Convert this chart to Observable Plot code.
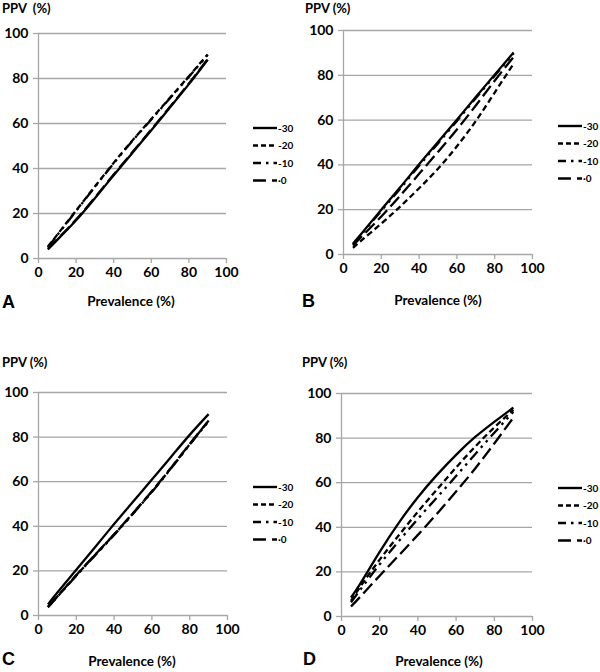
<!DOCTYPE html>
<html>
<head>
<meta charset="utf-8">
<script src="https://cdn.jsdelivr.net/npm/d3@7"></script>
<script src="https://cdn.jsdelivr.net/npm/@observablehq/plot@0.6"></script>
<style>
  html, body { margin: 0; padding: 0; background: #fff; }
  #root { position: relative; width: 600px; height: 672px; overflow: hidden; font-family: Lato, "Open Sans", sans-serif; font-weight: bold; color: #000; }
  .panel { position: absolute; }
  .txt { position: absolute; white-space: pre; line-height: 1; font-weight: bold; }
  .panel svg g[aria-label$="tick label"] { fill: #000; }
  .legend { position: absolute; }
</style>
</head>
<body>
<div id="root"></div>
<script>
// ---- data ----
const prevalence = [5, 10, 20, 30, 40, 50, 60, 70, 80, 90];
const seriesNames = ["-30", "-20", "-10", "0"];
const tickValues = [0, 20, 40, 60, 80, 100];
const gridValues = [20, 40, 60, 80, 100];

// Panel A
const a_m30 = [4.0, 8.3, 17.0, 26.8, 37.0, 47.0, 57.0, 67.2, 77.5, 88.4];
const a_m20 = [5.2, 10.6, 21.3, 32.0, 42.5, 52.5, 62.0, 71.5, 81.0, 90.7];
const a_m10 = [5.0, 10.4, 21.1, 31.8, 42.3, 52.3, 61.8, 71.3, 80.8, 90.5];
const a_0   = [4.3, 8.6, 17.3, 27.1, 37.3, 47.3, 57.3, 67.5, 77.8, 88.6];
// Panel B
const b_m30 = [4.8, 9.8, 20.0, 30.0, 40.3, 50.2, 60.2, 70.3, 80.3, 90.2];
const b_m20 = [3.0, 6.6, 13.8, 21.4, 29.6, 38.3, 48.3, 59.6, 72.3, 85.2];
const b_m10 = [4.6, 9.5, 19.5, 29.4, 39.6, 49.6, 59.6, 69.8, 79.8, 89.8];
const b_0   = [4.0, 8.3, 17.0, 26.3, 36.0, 45.8, 55.8, 66.5, 77.6, 88.2];
// Panel C
const c_m30 = [5.0, 10.3, 20.5, 30.7, 41.0, 51.0, 61.0, 71.0, 81.0, 90.3];
const c_m20 = [3.8, 8.5, 18.0, 27.2, 36.3, 45.8, 55.6, 66.0, 76.8, 87.3];
const c_m10 = [3.7, 8.4, 17.8, 27.0, 36.1, 45.6, 55.4, 65.8, 76.6, 87.1];
const c_0   = [3.9, 8.6, 18.1, 27.3, 36.4, 45.9, 55.7, 66.1, 76.9, 87.4];
// Panel D
const d_m30 = [8.5, 15.0, 29.0, 42.0, 53.5, 63.5, 72.5, 80.5, 87.3, 93.7];
const d_m20 = [7.0, 13.6, 25.5, 36.4, 47.0, 57.0, 66.8, 76.2, 84.8, 92.7];
const d_m10 = [6.3, 12.2, 23.4, 33.8, 43.8, 53.4, 63.0, 72.8, 82.4, 91.8];
const d_0   = [4.5, 9.0, 18.3, 27.4, 36.6, 46.1, 56.0, 66.4, 77.6, 89.2];

const panelLetters = ["A", "B", "C", "D"];
const yTitles = ["PPV  (%)", "PPV (%)", "PPV (%)", "PPV (%)"];
const xTitle = "Prevalence (%)";

// ---- styling ----
const dashes = {"-30": null, "-20": "6,3.5", "-10": "11,5,2.5,5,2.5,5", "0": "13,5"};
const widths = {"-30": 2.3, "-20": 2.3, "-10": 2.3, "0": 2.3};

const panels = [
  {series: [a_m30, a_m20, a_m10, a_0], left: 0,   top: 0,   h: 290, mt: 33, mb: 32, ml: 38, mr: 74,
   yt: [2, 2], lt: [2, 293], xt: [131, 295], lg: [250, 128]},
  {series: [b_m30, b_m20, b_m10, b_0], left: 300, top: 0,   h: 290, mt: 30, mb: 36, ml: 43, mr: 68,
   yt: [305, 2], lt: [302, 292], xt: [438, 294], lg: [555, 126]},
  {series: [c_m30, c_m20, c_m10, c_0], left: 0,   top: 336, h: 310, mt: 56, mb: 31, ml: 38, mr: 73,
   yt: [2, 356], lt: [2, 650], xt: [132, 655], lg: [250, 487]},
  {series: [d_m30, d_m20, d_m10, d_0], left: 300, top: 336, h: 310, mt: 57, mb: 30, ml: 41, mr: 68,
   yt: [302, 356], lt: [303, 650], xt: [439, 655], lg: [555, 488]}
];

const root = document.getElementById("root");

panels.forEach((p, i) => {
  const rows = [];
  p.series.forEach((vals, si) => {
    vals.forEach((v, k) => rows.push({series: seriesNames[si], x: prevalence[k], y: v}));
  });
  const lineMarks = seriesNames.slice().reverse().map(name =>
    Plot.line(rows.filter(d => d.series === name), {
      x: "x", y: "y", stroke: "#000", strokeWidth: widths[name],
      strokeDasharray: dashes[name], curve: "natural", strokeLinecap: "butt"
    })
  );
  const chart = Plot.plot({
    width: 300, height: p.h,
    marginTop: p.mt, marginBottom: p.mb, marginLeft: p.ml, marginRight: p.mr,
    style: {fontFamily: "Lato, 'Open Sans', sans-serif", fontSize: "14px", fontWeight: "bold", color: "#a6a6a6", background: "#fff", overflow: "visible"},
    x: {domain: [0, 100], label: null},
    y: {domain: [0, 100], label: null},
    marks: [
      Plot.gridY(gridValues, {stroke: "#a6a6a6", strokeOpacity: 1, strokeWidth: 1.3}),
      Plot.axisY({ticks: tickValues, tickSize: 5, tickPadding: 5, label: null, stroke: "#a6a6a6", strokeWidth: 1.3}),
      Plot.axisX({ticks: tickValues, tickSize: 5, tickPadding: 4, label: null, stroke: "#a6a6a6", strokeWidth: 1.3}),
      Plot.ruleX([0], {stroke: "#a6a6a6", strokeWidth: 1.3}),
      Plot.ruleY([0], {stroke: "#a6a6a6", strokeWidth: 1.3}),
      ...lineMarks
    ]
  });
  const wrap = document.createElement("div");
  wrap.className = "panel";
  wrap.style.left = p.left + "px";
  wrap.style.top = p.top + "px";
  wrap.appendChild(chart);
  root.appendChild(wrap);

  // y title
  const yt = document.createElement("div");
  yt.className = "txt"; yt.textContent = yTitles[i];
  yt.style.left = p.yt[0] + "px"; yt.style.top = p.yt[1] + "px"; yt.style.fontSize = "13px";
  root.appendChild(yt);
  // panel letter
  const lt = document.createElement("div");
  lt.className = "txt"; lt.textContent = panelLetters[i];
  lt.style.left = p.lt[0] + "px"; lt.style.top = p.lt[1] + "px";
  lt.style.fontSize = "18px"; lt.style.fontFamily = "'Liberation Sans', Arial, sans-serif";
  root.appendChild(lt);
  // x title
  const xt = document.createElement("div");
  xt.className = "txt"; xt.textContent = xTitle;
  xt.style.left = p.xt[0] + "px"; xt.style.top = p.xt[1] + "px"; xt.style.fontSize = "13.5px";
  xt.style.transform = "translateX(-50%)";
  root.appendChild(xt);

  // legend
  const ns = "http://www.w3.org/2000/svg";
  const lg = document.createElementNS(ns, "svg");
  lg.setAttribute("width", 45); lg.setAttribute("height", 70);
  lg.setAttribute("class", "legend");
  lg.style.left = p.lg[0] + "px"; lg.style.top = (p.lg[1] - 8) + "px";
  seriesNames.forEach((name, k) => {
    const cy = 8 + k * 17.5;
    const ln = document.createElementNS(ns, "line");
    ln.setAttribute("x1", 3); ln.setAttribute("x2", 27);
    ln.setAttribute("y1", cy); ln.setAttribute("y2", cy);
    ln.setAttribute("stroke", "#000"); ln.setAttribute("stroke-width", 2.4);
    if (dashes[name]) ln.setAttribute("stroke-dasharray", name === "-20" ? "5,3" : name === "-10" ? "8,5,2.5,5" : "13,6");
    lg.appendChild(ln);
    const tx = document.createElementNS(ns, "text");
    tx.setAttribute("x", 28); tx.setAttribute("y", cy + 3.5);
    tx.setAttribute("font-size", "10"); tx.setAttribute("font-weight", "bold");
    tx.setAttribute("font-family", "Lato, 'Open Sans', sans-serif");
    tx.textContent = name === "0" ? "\u00B70" : name;
    lg.appendChild(tx);
  });
  root.appendChild(lg);
});
</script>
</body>
</html>
